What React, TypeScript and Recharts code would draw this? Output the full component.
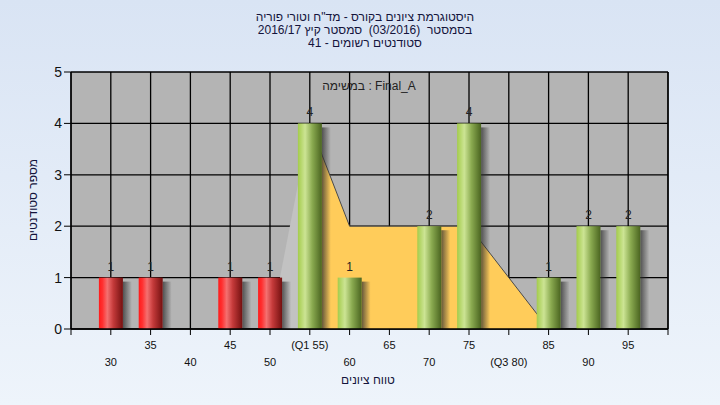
import React from "react";
import {
  ComposedChart,
  Bar,
  Area,
  XAxis,
  YAxis,
  CartesianGrid,
} from "recharts";

// score bins (centre of each bin) and number of students in each
const scoreBins = [30, 35, 40, 45, 50, 55, 60, 65, 70, 75, 80, 85, 90, 95];
const studentCounts = [1, 1, 0, 1, 1, 4, 1, 0, 2, 4, 0, 1, 2, 2];
const passMark = 55;

// yellow band between the quartiles
const bandX = [55, 60, 75, 85];
const bandY = [4, 2, 2, 0];

// pale wedge left of Q1
const wedgeX = [50, 55];
const wedgeY = [0, 4];

const xTicks = [25, 30, 35, 40, 45, 50, 55, 60, 65, 70, 75, 80, 85, 90, 95, 100];
const xTickLabels = ["", "30", "35", "40", "45", "50", "(Q1 55)", "60", "65", "70", "75", "(Q3 80)", "85", "90", "95", ""];
const yTicks = [0, 1, 2, 3, 4, 5];

const titleLines = [
  "היסטוגרמת ציונים בקורס - מד\"ח וטורי פוריה",
  "בסמסטר  (03/2016)  סמסטר קיץ 2016/17",
  "סטודנטים רשומים - 41",
];
const taskLabel = "במשימה : Final_A";
const xTitle = "טווח ציונים";
const yTitle = "מספר סטודנטים";

const FONT = "'Liberation Sans', Arial, sans-serif";

const rows = scoreBins.map((x, i) => {
  const b = bandX.indexOf(x);
  const w = wedgeX.indexOf(x);
  return {
    x,
    count: studentCounts[i],
    band: b >= 0 ? bandY[b] : null,
    wedge: w >= 0 ? wedgeY[w] : null,
  };
});

function CylinderBar(props: any) {
  const { x, y, width, height, payload } = props;
  if (!height || height <= 0) return <g />;
  const grad = payload.x < passMark ? "url(#redBar)" : "url(#greenBar)";
  return (
    <g>
      <rect x={x + width} y={y + 4} width={9} height={height - 4} fill="url(#barShadow)" />
      <rect x={x} y={y} width={width} height={height} fill={grad} />
    </g>
  );
}

function CountLabel(props: any) {
  const { x, y, width, value } = props;
  if (!value) return null;
  return (
    <text x={x + width / 2} y={y - 7} textAnchor="middle" fontSize={12} fill="#222" fontFamily={FONT}>
      {value}
    </text>
  );
}

function XTick(props: any) {
  const { x, y, payload } = props;
  const i = xTicks.indexOf(payload.value);
  const label = xTickLabels[i] ?? "";
  if (!label) return null;
  const dy = i % 2 === 0 ? 12 : 29;
  return (
    <text x={x} y={y + dy} textAnchor="middle" fontSize={11} fill="#111" fontFamily={FONT}>
      {label}
    </text>
  );
}

export default function App() {
  return (
    <div
      style={{
        position: "fixed",
        left: 0,
        top: 0,
        width: 720,
        height: 405,
        background: "linear-gradient(180deg, #d9e4f4 0%, #eef4fb 100%)",
        fontFamily: FONT,
        overflow: "hidden",
      }}
    >
      <div
        dir="rtl"
        style={{
          position: "absolute",
          left: 0,
          width: 730,
          top: 11,
          textAlign: "center",
          fontSize: 12,
          lineHeight: "13px",
          color: "#14143c",
          whiteSpace: "pre",
        }}
      >
        {titleLines.map((t) => (
          <div key={t}>{t}</div>
        ))}
      </div>

      <ComposedChart
        width={720}
        height={405}
        data={rows}
        margin={{ top: 72, right: 32, bottom: 20, left: 51 }}
        style={{ position: "absolute", left: 0, top: 0 }}
      >
        <defs>
          <linearGradient id="redBar" x1="0" y1="0" x2="1" y2="0">
            <stop offset="0%" stopColor="#ff1a1a" />
            <stop offset="15%" stopColor="#ff3030" />
            <stop offset="35%" stopColor="#f47070" />
            <stop offset="60%" stopColor="#c43a3a" />
            <stop offset="100%" stopColor="#741010" />
          </linearGradient>
          <linearGradient id="greenBar" x1="0" y1="0" x2="1" y2="0">
            <stop offset="0%" stopColor="#a4cc4c" />
            <stop offset="30%" stopColor="#cce494" />
            <stop offset="60%" stopColor="#8aaa50" />
            <stop offset="100%" stopColor="#4a6420" />
          </linearGradient>
          <linearGradient id="barShadow" x1="0" y1="0" x2="1" y2="0">
            <stop offset="0%" stopColor="#303030" stopOpacity={0.75} />
            <stop offset="100%" stopColor="#303030" stopOpacity={0} />
          </linearGradient>
        </defs>
        <CartesianGrid
          yAxisId="left"
          fill="#b4b4b4"
          fillOpacity={1}
          stroke="#000"
          strokeWidth={1.3}
          strokeOpacity={1}
          horizontalValues={yTicks}
          verticalValues={xTicks}
        />
        <XAxis
          dataKey="x"
          type="number"
          domain={[25, 100]}
          ticks={xTicks}
          interval={0}
          height={56}
          tickSize={6}
          tickLine={{ stroke: "#000" }}
          axisLine={{ stroke: "#000", strokeWidth: 1.3 }}
          tick={<XTick />}
        />
        <YAxis
          yAxisId="left"
          domain={[0, 5]}
          ticks={yTicks}
          width={20}
          tickSize={7}
          tickLine={{ stroke: "#000" }}
          axisLine={{ stroke: "#000", strokeWidth: 1.3 }}
          tick={{ fontSize: 14, fill: "#111", fontFamily: FONT }}
        />
        <YAxis
          yAxisId="right"
          orientation="right"
          domain={[0, 5]}
          ticks={yTicks}
          width={20}
          tickSize={7}
          tickLine={{ stroke: "#000" }}
          axisLine={{ stroke: "#000", strokeWidth: 1.3 }}
          tick={{ fontSize: 14, fill: "#111", fontFamily: FONT }}
        />
        <Area
          yAxisId="left"
          dataKey="wedge"
          type="linear"
          connectNulls
          fill="#c2c2c2"
          fillOpacity={1}
          stroke="none"
          isAnimationActive={false}
        />
        <Area
          yAxisId="left"
          dataKey="band"
          type="linear"
          connectNulls
          fill="#ffcc5a"
          fillOpacity={1}
          stroke="#4a4a4a"
          strokeWidth={1}
          isAnimationActive={false}
        />
        <Bar
          yAxisId="left"
          dataKey="count"
          barSize={24}
          shape={<CylinderBar />}
          label={<CountLabel />}
          isAnimationActive={false}
        />
      </ComposedChart>

      <div
        style={{
          position: "absolute",
          left: 269,
          width: 200,
          top: 79,
          textAlign: "center",
          fontSize: 12,
          color: "#222",
        }}
      >
        {taskLabel}
      </div>
      <div
        style={{
          position: "absolute",
          left: 268,
          width: 200,
          top: 373,
          textAlign: "center",
          fontSize: 12,
          color: "#14143c",
        }}
      >
        {xTitle}
      </div>
      <div
        style={{
          position: "absolute",
          left: -67,
          width: 200,
          top: 193,
          textAlign: "center",
          fontSize: 12,
          color: "#14143c",
          transform: "rotate(-90deg)",
        }}
      >
        {yTitle}
      </div>
    </div>
  );
}
